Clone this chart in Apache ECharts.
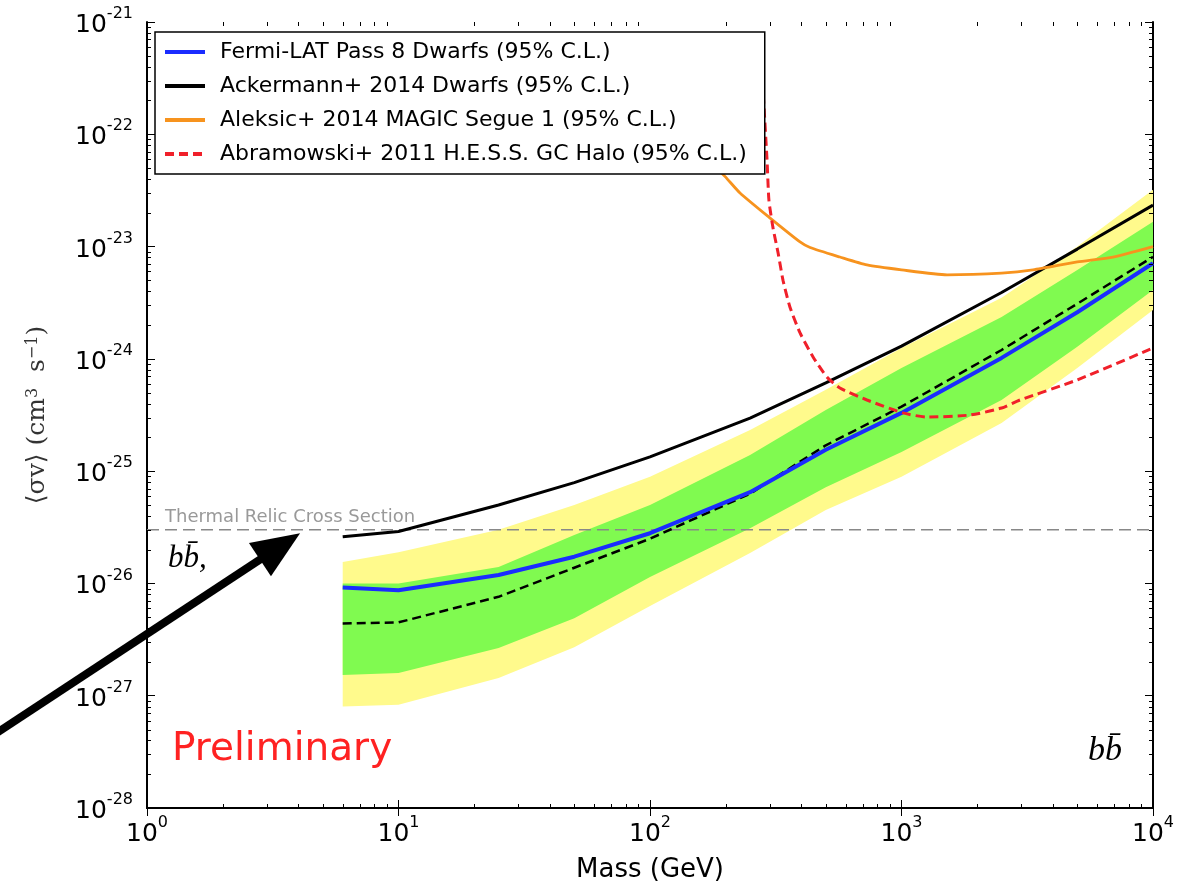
<!DOCTYPE html>
<html><head><meta charset="utf-8">
<script src="https://cdn.jsdelivr.net/npm/echarts@6/dist/echarts.min.js"></script>
<style>html,body{margin:0;padding:0;background:#fff}#c{width:1191px;height:885px}</style>
</head><body><div id="c"></div>
<script>
// ---- data ----
const masses = [6, 10, 25, 50, 100, 250, 500, 1000, 2500, 5000, 10000];
const fermiPass8 = [9.2e-27, 8.7e-27, 1.19e-26, 1.73e-26, 2.8e-26, 6.5e-26, 1.55e-25, 3.3e-25, 1.02e-24, 2.6e-24, 7.1e-24];
const expectedMedian = [4.4e-27, 4.5e-27, 7.6e-27, 1.38e-26, 2.5e-26, 6.3e-26, 1.7e-25, 3.75e-25, 1.2e-24, 3.1e-24, 8.1e-24];
const ackermann2014 = [2.6e-26, 2.9e-26, 5.0e-26, 7.9e-26, 1.34e-25, 2.97e-25, 6.1e-25, 1.3e-24, 3.9e-24, 9.5e-24, 2.34e-23];
const band95Upper = [1.55e-26, 1.9e-26, 3.0e-26, 5.0e-26, 8.9e-26, 2.33e-25, 5.3e-25, 1.25e-24, 3.5e-24, 1.0e-23, 3.2e-23];
const band95Lower = [8.0e-28, 8.3e-28, 1.44e-27, 2.7e-27, 6.3e-27, 1.87e-26, 4.5e-26, 8.9e-26, 2.69e-25, 8.3e-25, 2.72e-24];
const band68Upper = [1.0e-26, 1.0e-26, 1.4e-26, 2.7e-26, 5.0e-26, 1.39e-25, 3.5e-25, 8.3e-25, 2.36e-24, 6.2e-24, 1.66e-23];
const band68Lower = [1.53e-27, 1.59e-27, 2.66e-27, 4.9e-27, 1.14e-26, 3.1e-26, 7.2e-26, 1.48e-25, 4.3e-25, 1.28e-24, 4.1e-24];
const magicMass = [150, 199, 228, 297, 395, 433, 569, 729, 1000, 1517, 2500, 3334, 5000, 6934, 10000];
const magicSegue1 = [8e-23, 4.2e-23, 3.0e-23, 1.83e-23, 1.1e-23, 9.8e-24, 8.07e-24, 6.86e-24, 6.2e-24, 5.6e-24, 5.8e-24, 6.2e-24, 7.3e-24, 8.07e-24, 1.0e-23];
const hessMass = [280, 292, 297, 308, 323, 338, 360, 395, 445, 505, 569, 729, 1014, 1262, 1872, 2500, 2958, 5000, 10000];
const hessGCHalo = [3e-22, 5.9e-23, 2.6e-23, 1.49e-23, 8.8e-24, 5.0e-24, 2.9e-24, 1.7e-24, 1.04e-24, 6.9e-25, 5.5e-25, 4.3e-25, 3.3e-25, 3.03e-25, 3.16e-25, 3.65e-25, 4.3e-25, 6.5e-25, 1.25e-24];
const thermalRelic = 3e-26;
const xRange = [1, 1e4];
// y range: 1e-28 .. 1e-21 (bounds nudged by 1e-4 of a decade so ECharts' 20-digit rounding of the end ticks does not hit the labelled decades)
const yRange = [0.9998e-28, 1.0002e-21];
const arrowTail = [0.2, 3.3e-28];
const arrowTip = [4.06, 2.8e-26];
const seriesNames = ['Fermi-LAT Pass 8 Dwarfs (95% C.L.)', 'Ackermann+ 2014 Dwarfs (95% C.L.)', 'Aleksic+ 2014 MAGIC Segue 1 (95% C.L.)', 'Abramowski+ 2011 H.E.S.S. GC Halo (95% C.L.)'];

// minor tick positions (2..9 x each decade)
const minorX = []; for (let e = 0; e < 4; e++) for (let k = 2; k <= 9; k++) minorX.push(k * Math.pow(10, e));
const minorY = []; for (let e = -28; e < -21; e++) for (let k = 2; k <= 9; k++) minorY.push(k * Math.pow(10, e));

const chart = echarts.init(document.getElementById('c'));
const FONT = 'DejaVu Sans';
function powLabel(v) {
  if (!(v > 0)) return '';
  const e = Math.round(Math.log10(v));
  if (Math.abs(Math.log10(v) - e) > 0.01) return '';
  return '{b|10}{s|' + e + '}';
}
const labelRich = {
  b: { fontSize: 25, fontFamily: FONT, color: '#000', padding: [7, 0, 0, 0], verticalAlign: 'bottom' },
  s: { fontSize: 16, fontFamily: FONT, color: '#000', verticalAlign: 'top' }
};
const pair = (xs, ys) => xs.map((x, i) => [x, ys[i]]);

function band(name, lower, upper, color) {
  return {
    type: 'custom', name: name, silent: true, z: 1,
    data: masses.map((m, i) => [m, lower[i], upper[i]]),
    encode: { x: 0, y: [1, 2] },
    renderItem: function (params, api) {
      if (params.dataIndex !== 0) return null;
      const pts = [];
      for (let i = 0; i < masses.length; i++) pts.push(api.coord([masses[i], upper[i]]));
      for (let i = masses.length - 1; i >= 0; i--) pts.push(api.coord([masses[i], lower[i]]));
      return { type: 'polygon', shape: { points: pts }, style: { fill: color } };
    }
  };
}
function minorTicks(vals, isX) {
  return {
    type: 'custom', silent: true, z: 6,
    data: vals.map(v => isX ? [v, 1e-25] : [100, v]),
    encode: { x: 0, y: 1 },
    renderItem: function (params, api) {
      const cs = params.coordSys;
      const p = api.coord([api.value(0), api.value(1)]);
      const st = { stroke: '#000', lineWidth: 1 };
      if (isX) {
        const x = Math.round(p[0]) + 0.5;
        return { type: 'group', children: [
          { type: 'line', shape: { x1: x, y1: cs.y + cs.height, x2: x, y2: cs.y + cs.height - 4 }, style: st },
          { type: 'line', shape: { x1: x, y1: cs.y, x2: x, y2: cs.y + 4 }, style: st }
        ] };
      } else {
        const y = Math.round(p[1]) + 0.5;
        return { type: 'group', children: [
          { type: 'line', shape: { x1: cs.x, y1: y, x2: cs.x + 4, y2: y }, style: st },
          { type: 'line', shape: { x1: cs.x + cs.width, y1: y, x2: cs.x + cs.width - 4, y2: y }, style: st }
        ] };
      }
    }
  };
}
const axisLineStyle = { show: true, lineStyle: { color: '#000', width: 2 } };
const tickStyle = { show: true, inside: true, length: 8, lineStyle: { color: '#000', width: 1 } };

const option = {
  backgroundColor: '#fff',
  animation: false,
  grid: { left: 147, top: 22, right: 38, bottom: 77, containLabel: false, outerBoundsMode: 'none' },
  legend: {
    data: seriesNames, orient: 'vertical', left: 155, top: 32,
    padding: [9, 18, 9, 8], itemWidth: 40, itemHeight: 14, itemGap: 12,
    backgroundColor: '#fff', borderColor: '#000', borderWidth: 1.5, borderRadius: 0,
    itemStyle: { opacity: 0 }, lineStyle: { width: 4 },
    textStyle: { fontFamily: FONT, fontSize: 22, color: '#000', padding: [0, 0, 0, 10] },
    selectedMode: false, z: 10
  },
  xAxis: [
    { type: 'log', logBase: 10, min: xRange[0], max: xRange[1], splitNumber: 4,
      name: 'Mass (GeV)', nameLocation: 'middle', nameGap: 49,
      nameTextStyle: { fontFamily: FONT, fontSize: 26, color: '#000' },
      axisLine: axisLineStyle, axisTick: tickStyle, splitLine: { show: false }, minorTick: { show: false },
      axisLabel: { formatter: powLabel, rich: labelRich, margin: 7, showMinLabel: true, showMaxLabel: true } },
    { type: 'log', logBase: 10, min: xRange[0], max: xRange[1], splitNumber: 4, position: 'top',
      axisLine: axisLineStyle, axisTick: tickStyle, splitLine: { show: false }, axisLabel: { show: false } }
  ],
  yAxis: [
    { type: 'log', logBase: 10, min: yRange[0], max: yRange[1], splitNumber: 7,
      name: '⟨σv⟩ (cm{s|3}  s{s|−1})', nameLocation: 'middle', nameGap: 97, nameMoveOverlap: false,
      nameTextStyle: { fontFamily: 'DejaVu Serif', fontSize: 25, color: '#333',
        rich: { s: { fontFamily: 'DejaVu Serif', fontSize: 16, color: '#333', verticalAlign: 'top' } } },
      axisLine: axisLineStyle, axisTick: tickStyle, splitLine: { show: false }, minorTick: { show: false },
      axisLabel: { formatter: powLabel, rich: labelRich, margin: 14, showMinLabel: false, showMaxLabel: false } },
    { type: 'log', logBase: 10, min: yRange[0], max: yRange[1], splitNumber: 7, position: 'right',
      axisLine: axisLineStyle, axisTick: tickStyle, splitLine: { show: false }, axisLabel: { show: false } }
  ],
  series: [
    band('95% band', band95Lower, band95Upper, '#fffa8c'),
    band('68% band', band68Lower, band68Upper, '#80fa50'),
    { type: 'line', name: 'Thermal', data: [[xRange[0], thermalRelic], [xRange[1], thermalRelic]], symbol: 'none', z: 3,
      silent: true, lineStyle: { color: '#888', width: 1.5, type: [12, 6] } },
    { type: 'line', name: 'Expected', data: pair(masses, expectedMedian), symbol: 'none', z: 3,
      lineStyle: { color: '#000', width: 2.5, type: [9, 5] } },
    { type: 'line', name: seriesNames[0], data: pair(masses, fermiPass8), symbol: 'none', z: 4,
      lineStyle: { color: '#1a2cff', width: 4 }, itemStyle: { color: '#1a2cff' } },
    { type: 'line', name: seriesNames[1], data: pair(masses, ackermann2014), symbol: 'none', z: 4,
      lineStyle: { color: '#000', width: 3 }, itemStyle: { color: '#000' } },
    { type: 'line', name: seriesNames[2], data: pair(magicMass, magicSegue1), symbol: 'none', z: 4, smooth: 0.2,
      lineStyle: { color: '#f7931e', width: 2.8 }, itemStyle: { color: '#f7931e' } },
    { type: 'line', name: seriesNames[3], data: pair(hessMass, hessGCHalo), symbol: 'none', z: 4, smooth: 0.2,
      lineStyle: { color: '#f0202a', width: 3, type: [9, 5] }, itemStyle: { color: '#f0202a' } },
    minorTicks(minorX, true),
    minorTicks(minorY, false)
  ]
};
chart.setOption(option);

// annotations: arrow and thermal label (positions via the axes' scales) and text labels
const finder = { xAxisIndex: 0, yAxisIndex: 0 };
const pTail = chart.convertToPixel(finder, arrowTail);
const pTip = chart.convertToPixel(finder, arrowTip);
const pThermal = chart.convertToPixel(finder, [xRange[0], thermalRelic]);
const dx = pTip[0] - pTail[0], dy = pTip[1] - pTail[1];
const len = Math.sqrt(dx * dx + dy * dy);
const ux = dx / len, uy = dy / len;
const headLen = 48, headHalf = 20;
const bx = pTip[0] - ux * headLen, by = pTip[1] - uy * headLen;
chart.setOption({
  graphic: [
    { type: 'line', z: 100, shape: { x1: pTail[0], y1: pTail[1], x2: bx + ux * 4, y2: by + uy * 4 },
      style: { stroke: '#000', lineWidth: 8 } },
    { type: 'polygon', z: 100, shape: { points: [pTip, [bx - uy * headHalf, by + ux * headHalf], [bx + uy * headHalf, by - ux * headHalf]] },
      style: { fill: '#000' } },
    { type: 'text', z: 50, x: pThermal[0] + 18, y: pThermal[1] - 4,
      style: { text: 'Thermal Relic Cross Section', fill: '#999', font: '18px "DejaVu Sans"', verticalAlign: 'bottom' } },
    { type: 'text', z: 50, left: 172, top: 730, style: { text: 'Preliminary', fill: '#ff2222', font: '39px "DejaVu Sans"' } },
    { type: 'text', z: 50, left: 168, top: 543, style: { text: 'bb\u0304,', fill: '#000', font: 'italic 31px "Liberation Serif"' } },
    { type: 'text', z: 50, left: 1088, top: 734, style: { text: 'bb\u0304', fill: '#000', font: 'italic 34px "Liberation Serif"' } }
  ]
});
</script>
</body></html>
